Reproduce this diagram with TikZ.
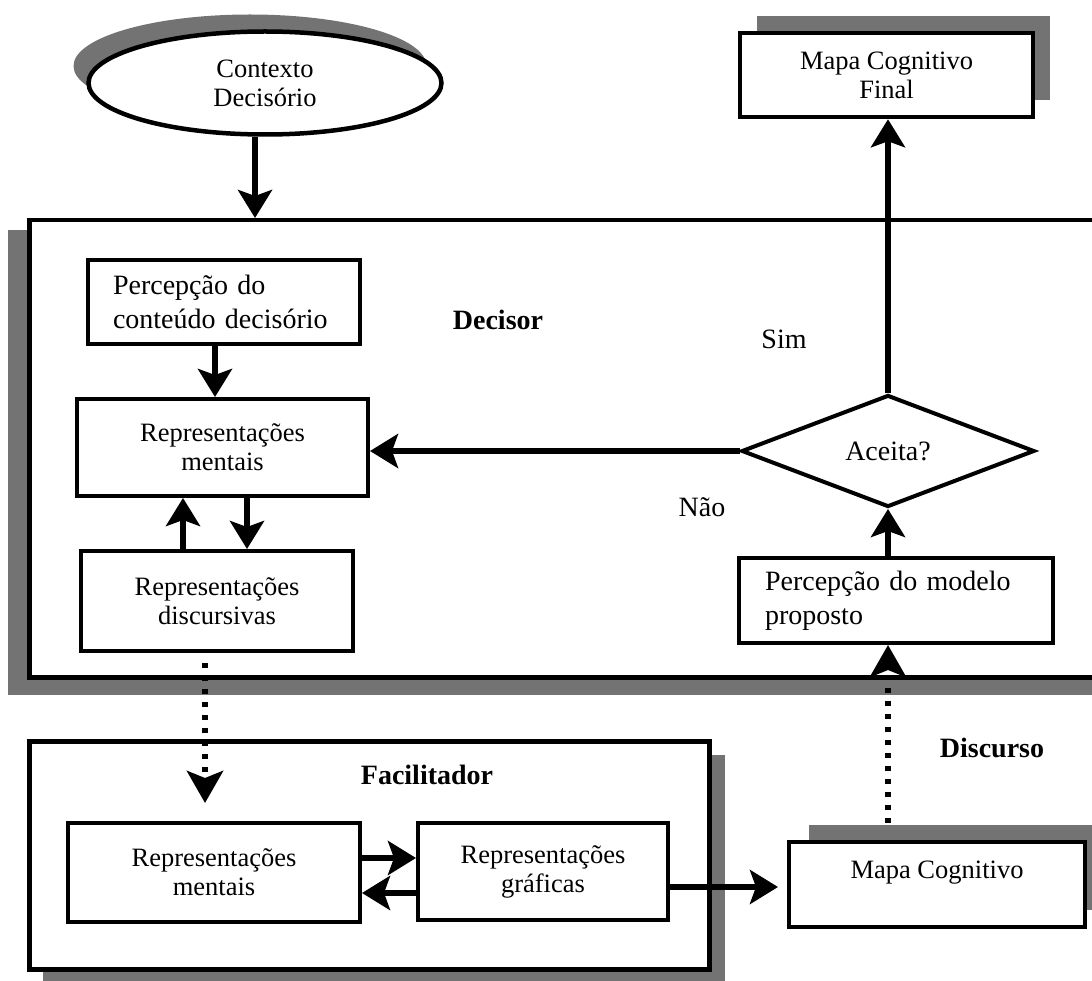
\documentclass[tikz,border=0pt]{standalone}
\usepackage{fontspec}
\setmainfont{Liberation Serif}
\usetikzlibrary{shapes.geometric,arrows.meta}

\begin{document}
\begin{tikzpicture}[x=1pt,y=-1pt,
  shade/.style={fill=black!55, draw=none},
  frame/.style={draw, line width=4.5pt, fill=white, inner sep=0pt},
  box/.style={draw, line width=4pt, fill=white, inner sep=0pt},
  gtext/.style={font=\fontsize{26.5}{29}\selectfont, align=center},
  ttext/.style={font=\fontsize{28}{34}\selectfont},
  head/.style={font=\bfseries\fontsize{28}{34}\selectfont},
  arr/.style={line width=5.5pt, -{Stealth[length=28pt 0 0,width=34pt 0,inset=6pt 0]}},
  dotarr/.style={line width=6pt, dash pattern=on 5pt off 8pt,
                 -{Stealth[length=32pt 0 0,width=36pt 0,inset=7pt 0]}},
]
\useasboundingbox (0,0) rectangle (1092,981);
\clip (0,0) rectangle (1092,981);

% drop shadows
\fill[shade] (8,230) rectangle (1110,695);
\fill[shade] (43,755) rectangle (725,990);
\fill[shade] (757,16) rectangle (1050,100);
\fill[shade] (809,825) rectangle (1105,910);
\fill[shade] (250,66) ellipse [x radius=176.5pt, y radius=51.5pt];

% outer frames
\node[frame, minimum width=1130pt, minimum height=457pt, anchor=north west] (decisor) at (27,218) {};
\node[frame, minimum width=680pt, minimum height=228pt, anchor=north west] (fac) at (27,739) {};

% nodes
\node[draw, ellipse, line width=4.5pt, fill=white, minimum width=353pt, minimum height=103pt,
      inner sep=0pt, gtext] (ctx) at (265,83) {Contexto\\Decisório};
\node[box, line width=4.5pt, minimum width=293pt, minimum height=84pt, gtext] (final) at (886.5,75) {Mapa Cognitivo\\Final};
\node[box, minimum width=272pt, minimum height=84pt, ttext, text width=222pt, align=left] (perc) at (224,302) {Percepção do\\conteúdo decisório};
\node[box, minimum width=291pt, minimum height=97pt, gtext] (repm) at (222.5,447.5) {Representações\\mentais};
\node[box, minimum width=272pt, minimum height=100pt, gtext] (repd) at (217,601) {Representações\\discursivas};
\node[draw, diamond, line width=4pt, fill=white, minimum width=293pt, minimum height=112pt,
      inner sep=0pt, ttext] (aceita) at (888,451) {Aceita?};
\node[box, minimum width=314pt, minimum height=85pt, ttext, text width=262pt, align=left] (percm) at (896,600.5) {Percepção do modelo\\proposto};
\node[box, minimum width=292pt, minimum height=99pt, gtext] (facm) at (214,872.5) {Representações\\mentais};
\node[box, minimum width=250pt, minimum height=97pt, gtext] (facg) at (543,871.5) {Representações\\gráficas};
\node[box, minimum width=296pt, minimum height=85pt, gtext] (mapa) at (937,884.5) {Mapa Cognitivo\\\mbox{}};

% labels
\node[head] (lbldec) at (498,320) {Decisor};
\node[ttext] (lblsim) at (784,339) {Sim};
\node[ttext] (lblnao) at (702,507) {Não};
\node[head] (lblfac) at (427,775) {Facilitador};
\node[head] (lbldisc) at (992,748) {Discurso};

% connectors
\draw[arr] ([xshift=-10pt]ctx.south) -- ([xshift=-10pt]ctx.south |- decisor.north);
\draw[arr] ([xshift=-9pt]perc.south) -- ([xshift=-9pt]perc.south |- repm.north);
\draw[arr] (aceita.west) -- (aceita.west -| repm.east);
\draw[arr] ([xshift=-34pt]repd.north) -- ([xshift=-34pt]repd.north |- repm.south);
\draw[arr] ([xshift=30pt]repd.north |- repm.south) -- ([xshift=30pt]repd.north);
\draw[arr] (aceita.south |- percm.north) -- (aceita.south);
\draw[arr] (aceita.north) -- (aceita.north |- final.south);
\draw[arr] ([yshift=14.5pt]facm.east) -- ([yshift=14.5pt]facm.east -| facg.west);
\draw[arr] ([yshift=-21.5pt]facg.west) -- ([yshift=-21.5pt]facg.west -| facm.east);
\draw[arr, shorten >=9pt] ([yshift=-15.5pt]facg.east) -- ([yshift=-15.5pt]facg.east -| mapa.west);
\draw[dotarr, shorten <=10pt] ([xshift=-12pt]repd.south) -- ([xshift=-12pt,yshift=18pt]repd.south |- facm.north);
\draw[dotarr, shorten <=17pt] (aceita.south |- mapa.north) -- (aceita.south |- percm.south);
\end{tikzpicture}
\end{document}
